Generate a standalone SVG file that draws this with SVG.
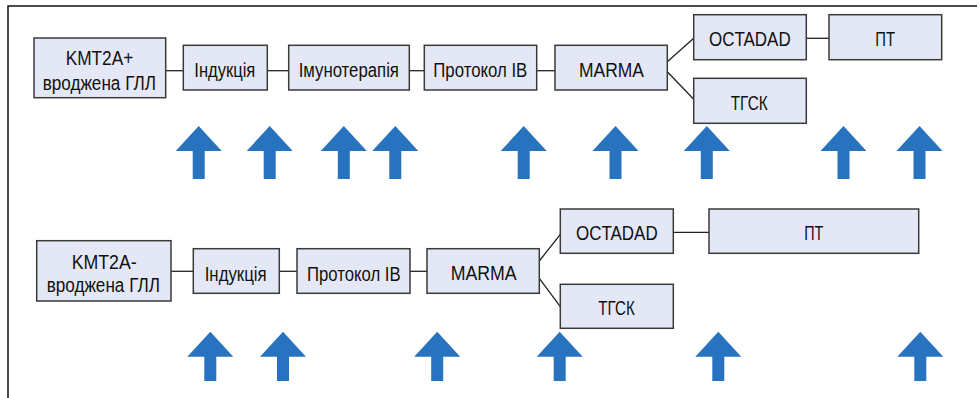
<svg xmlns="http://www.w3.org/2000/svg" width="980" height="398" viewBox="0 0 980 398">
<style>
.box{fill:#e4e8f6;stroke:#3a3a3a;stroke-width:1.5}
.t{font-family:"Liberation Sans",Arial,sans-serif;font-size:20px;fill:#111;text-anchor:middle}
.c{stroke:#222;stroke-width:1.3;fill:none}
.arr{fill:#2773bf}
.frame{stroke:#111;stroke-width:1.5;fill:none}
</style>
<path class="frame" d="M8,398 V6 H977"/>
<g id="connectors">
<line class="c" x1="165.7" y1="70.7" x2="183.3" y2="70.7"/>
<line class="c" x1="267.3" y1="70.7" x2="288.7" y2="70.7"/>
<line class="c" x1="409.3" y1="70.7" x2="424.3" y2="70.7"/>
<line class="c" x1="536.7" y1="70.7" x2="555" y2="70.7"/>
<line class="c" x1="667.3" y1="61.7" x2="693.7" y2="38.3"/>
<line class="c" x1="667.3" y1="71.7" x2="693.7" y2="99.3"/>
<line class="c" x1="806.3" y1="38.3" x2="829" y2="38.3"/>
<line class="c" x1="171" y1="271.3" x2="193.3" y2="271.3"/>
<line class="c" x1="279.3" y1="271.3" x2="297" y2="271.3"/>
<line class="c" x1="410" y1="271.3" x2="427" y2="271.3"/>
<line class="c" x1="539.3" y1="261" x2="560.3" y2="234.3"/>
<line class="c" x1="539.3" y1="278.3" x2="560.3" y2="306.7"/>
<line class="c" x1="673.3" y1="232.3" x2="709" y2="232.3"/>
</g>
<g id="n-kmt2a-plus"><rect class="box" x="34" y="38" width="131.7" height="59.7"/>
<text class="t" x="99.5" y="65" textLength="67.6" lengthAdjust="spacingAndGlyphs">KMT2A+</text>
<text class="t" x="99.3" y="90" textLength="113.3" lengthAdjust="spacingAndGlyphs">вроджена ГЛЛ</text></g>
<g id="n-ind1"><rect class="box" x="183.3" y="45.3" width="84" height="44.7"/>
<text class="t" x="224.8" y="77.3" textLength="61" lengthAdjust="spacingAndGlyphs">Індукція</text></g>
<g id="n-imuno"><rect class="box" x="288.7" y="45.3" width="120.6" height="44.7"/>
<text class="t" x="348.8" y="77.3" textLength="100.3" lengthAdjust="spacingAndGlyphs">Імунотерапія</text></g>
<g id="n-prot1"><rect class="box" x="424.3" y="45.3" width="112.4" height="44.7"/>
<text class="t" x="480.3" y="77.3" textLength="94" lengthAdjust="spacingAndGlyphs">Протокол IB</text></g>
<g id="n-marma1"><rect class="box" x="555" y="45.3" width="112.3" height="44.7"/>
<text class="t" x="611.5" y="77.3" textLength="65" lengthAdjust="spacingAndGlyphs">MARMA</text></g>
<g id="n-octa1"><rect class="box" x="693.7" y="14.7" width="112.6" height="45"/>
<text class="t" x="749.8" y="45.7" textLength="81.7" lengthAdjust="spacingAndGlyphs">OCTADAD</text></g>
<g id="n-pt1"><rect class="box" x="829" y="14.7" width="112.7" height="45"/>
<text class="t" x="885.2" y="45.7" textLength="19.7" lengthAdjust="spacingAndGlyphs">ПТ</text></g>
<g id="n-tgsk1"><rect class="box" x="693.7" y="78.3" width="112.6" height="45"/>
<text class="t" x="749.2" y="110" textLength="37" lengthAdjust="spacingAndGlyphs">ТГСК</text></g>

<g id="n-kmt2a-minus"><rect class="box" x="36.7" y="240.7" width="134.3" height="60.3"/>
<text class="t" x="104.2" y="268.7" textLength="65" lengthAdjust="spacingAndGlyphs">KMT2A-</text>
<text class="t" x="103.3" y="291.7" textLength="113.3" lengthAdjust="spacingAndGlyphs">вроджена ГЛЛ</text></g>
<g id="n-ind2"><rect class="box" x="193.3" y="248.7" width="86" height="44.6"/>
<text class="t" x="235.7" y="280.7" textLength="62" lengthAdjust="spacingAndGlyphs">Індукція</text></g>
<g id="n-prot2"><rect class="box" x="297" y="248.7" width="113" height="44.6"/>
<text class="t" x="353.8" y="280.7" textLength="93.7" lengthAdjust="spacingAndGlyphs">Протокол IB</text></g>
<g id="n-marma2"><rect class="box" x="427" y="248.7" width="112.3" height="44.6"/>
<text class="t" x="483.7" y="280.3" textLength="66" lengthAdjust="spacingAndGlyphs">MARMA</text></g>
<g id="n-octa2"><rect class="box" x="560.3" y="209" width="113" height="44.3"/>
<text class="t" x="616.8" y="240" textLength="81.7" lengthAdjust="spacingAndGlyphs">OCTADAD</text></g>
<g id="n-tgsk2"><rect class="box" x="560.3" y="284.3" width="113" height="44"/>
<text class="t" x="616.5" y="315" textLength="36.4" lengthAdjust="spacingAndGlyphs">ТГСК</text></g>
<g id="n-pt2"><rect class="box" x="709" y="209" width="209.7" height="44.3"/>
<text class="t" x="813.8" y="240" textLength="19" lengthAdjust="spacingAndGlyphs">ПТ</text></g>

<defs>
<path id="aTop" class="arr" d="M0,0 L23,25 L6,25 L6,53 L-6,53 L-6,25 L-23,25 Z"/>
<path id="aBot" class="arr" d="M0,0 L23,25 L6,25 L6,49.3 L-6,49.3 L-6,25 L-23,25 Z"/>
</defs>
<g id="arrows-top">
<use href="#aTop" x="198.7" y="126"/>
<use href="#aTop" x="269.7" y="126"/>
<use href="#aTop" x="343.8" y="126"/>
<use href="#aTop" x="395.3" y="126"/>
<use href="#aTop" x="523.7" y="126"/>
<use href="#aTop" x="615.5" y="126"/>
<use href="#aTop" x="706.8" y="126"/>
<use href="#aTop" x="843.5" y="126"/>
<use href="#aTop" x="919.5" y="126"/>
</g>
<g id="arrows-bottom">
<use href="#aBot" x="210.3" y="331.7"/>
<use href="#aBot" x="283" y="331.7"/>
<use href="#aBot" x="437.2" y="331.7"/>
<use href="#aBot" x="559.7" y="331.7"/>
<use href="#aBot" x="718.3" y="331.7"/>
<use href="#aBot" x="920.3" y="331.7"/>
</g>
</svg>
